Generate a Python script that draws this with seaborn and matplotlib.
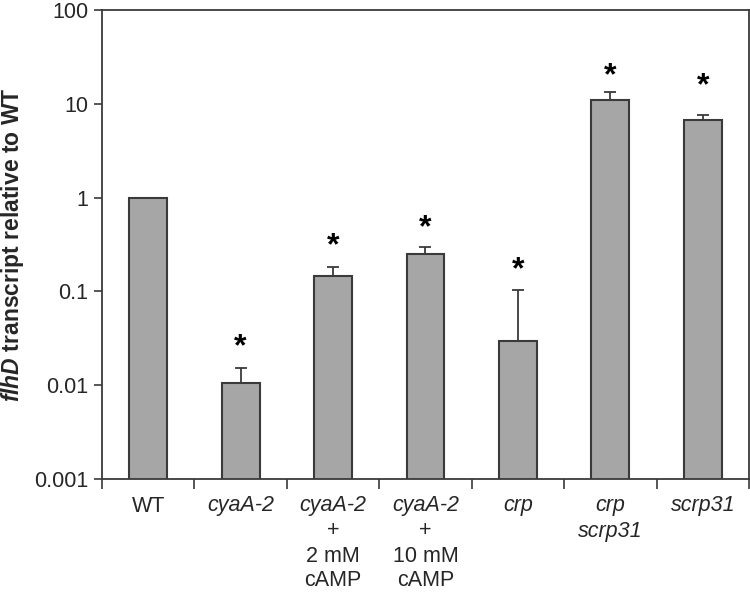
import matplotlib
matplotlib.use("Agg")
import matplotlib.pyplot as plt
import seaborn as sns
import numpy as np
import pandas as pd
from matplotlib.ticker import FixedLocator, FixedFormatter, NullLocator

# ---- data ----
categories = ["WT", "cyaA-2", "cyaA-2 + 2 mM cAMP", "cyaA-2 + 10 mM cAMP",
              "crp", "crp scrp31", "scrp31"]
values = [1.0, 0.0106, 0.146, 0.252, 0.0296, 10.97, 6.67]
err_top = [1.0, 0.0154, 0.184, 0.297, 0.1035, 13.3, 7.65]
star_y = [None, 0.0289, 0.339, 0.536, 0.191, 22.5, 17.5]
label_lines = [
    [("WT", False)],
    [("cyaA-2", True)],
    [("cyaA-2", True), ("+", False), ("2 mM", False), ("cAMP", False)],
    [("cyaA-2", True), ("+", False), ("10 mM", False), ("cAMP", False)],
    [("crp", True)],
    [("crp", True), ("scrp31", True)],
    [("scrp31", True)],
]
ytick_vals = [0.001, 0.01, 0.1, 1, 10, 100]
ytick_labels = ["0.001", "0.01", "0.1", "1", "10", "100"]
ylabel_italic = "flhD"
ylabel_rest = " transcript relative to WT"

sns.set_style("ticks")
plt.rcParams["font.family"] = ["Liberation Sans", "DejaVu Sans"]
plt.rcParams["mathtext.fontset"] = "custom"
plt.rcParams["mathtext.rm"] = "Liberation Sans"
plt.rcParams["mathtext.it"] = "Liberation Sans:italic"
plt.rcParams["mathtext.bf"] = "Liberation Sans:bold"
try:
    plt.rcParams["mathtext.bfit"] = "Liberation Sans:italic:bold"
except KeyError:
    pass

edge = "#3a3a3a"
df = pd.DataFrame({"cat": categories, "val": values})

fig = plt.figure(figsize=(7.5, 5.95), dpi=100)
ax = fig.add_axes([102 / 750, 1 - 479 / 595, (749 - 102) / 750, (479 - 10) / 595])
ax.set_yscale("log")
sns.barplot(data=df, x="cat", y="val", order=categories, color="#a6a6a6",
            saturation=1, edgecolor=edge, linewidth=1.5, width=0.41,
            errorbar=None, ax=ax)

xs = np.arange(len(categories))
vals = np.array(values)
lower = np.zeros_like(vals)
upper = np.array(err_top) - vals
ax.errorbar(xs, vals, yerr=[lower, upper], fmt="none", ecolor=edge,
            elinewidth=1.3, capsize=4.5, capthick=1.3, zorder=3)

for x, sy in zip(xs, star_y):
    if sy is not None:
        ax.annotate("*", xy=(x, sy), xytext=(0, -5), textcoords="offset pixels",
                    ha="center", va="center", fontsize=23,
                    fontweight="bold", color="black")

ax.set_ylim(0.001, 100)
ax.set_xlim(-0.5, len(categories) - 0.5)
ax.yaxis.set_major_locator(FixedLocator(ytick_vals))
ax.yaxis.set_major_formatter(FixedFormatter(ytick_labels))
ax.yaxis.set_minor_locator(NullLocator())
ax.xaxis.set_major_locator(FixedLocator(np.arange(len(categories) + 1) - 0.5))
ax.xaxis.set_major_formatter(FixedFormatter([""] * (len(categories) + 1)))
ax.xaxis.set_minor_locator(NullLocator())
ax.tick_params(axis="y", labelsize=15.5, length=6, width=1.2, color=edge,
               direction="out", pad=4)
ax.tick_params(axis="x", length=7, width=1.2, color=edge, direction="out")
for s in ax.spines.values():
    s.set_visible(True)
    s.set_color(edge)
    s.set_linewidth(1.3)
ax.set_xlabel("")
ax.set_ylabel(r"$\mathbfit{" + ylabel_italic + "}$" + r"$\mathbf{\ transcript\ relative\ to\ WT}$",
              fontsize=16.5, labelpad=6)

for i, lines in enumerate(label_lines):
    for j, (txt, it) in enumerate(lines):
        ax.annotate(txt, xy=(i, 0), xycoords=("data", "axes fraction"),
                    xytext=(0, -27 - 25 * j), textcoords="offset pixels",
                    ha="center", va="center", fontsize=15.5,
                    fontstyle="italic" if it else "normal", annotation_clip=False)

fig.savefig("out.png", dpi=100)
